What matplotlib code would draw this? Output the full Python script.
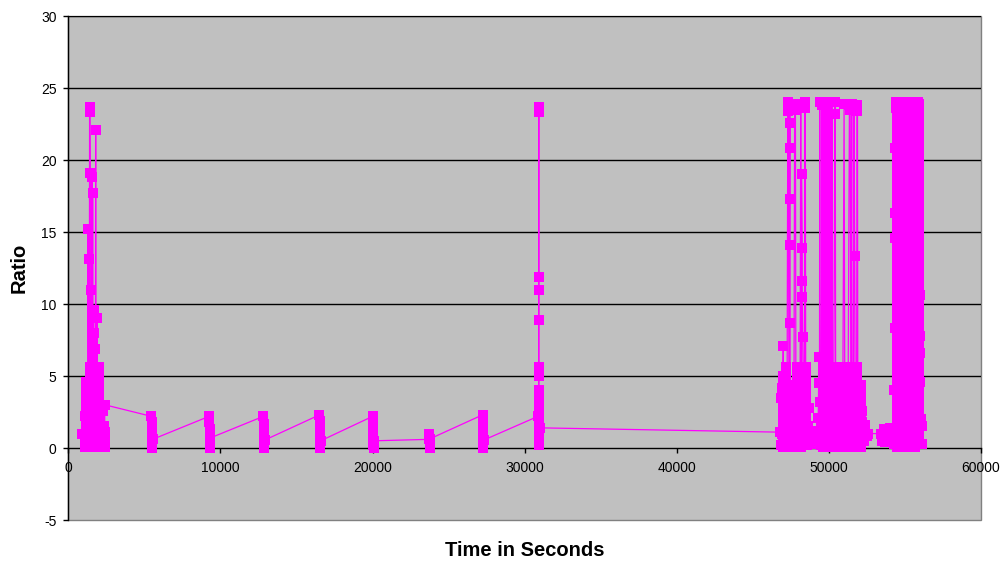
import numpy as np
import matplotlib
matplotlib.use("Agg")
import matplotlib.pyplot as plt
from matplotlib.patches import Rectangle

plt.rcParams["font.family"] = ["Liberation Sans", "DejaVu Sans"]

# ---------------------------------------------------------------- data
# Opening burst: time (s) and ratio
start_t = [870, 1080, 1100, 1120, 1150, 1180, 1200, 1230, 1260, 1290,
           1300, 1320, 1340, 1360, 1380, 1400, 1410, 1420, 1440, 1460,
           1480, 1500, 1520, 1540, 1560, 1580, 1600, 1620, 1640, 1660,
           1680, 1700, 1720, 1740, 1760, 1780, 1800, 1820, 1840, 1860,
           1880, 1900, 1920, 1940, 1960, 1980, 2000, 2030, 2060, 2100,
           2140, 2180, 2220, 2260, 2300, 2340, 2400]
start_r = [1.0, 0.1, 2.2, 0.5, 4.6, 1.2, 3.4, 0.3, 2.7, 0.8,
           15.2, 4.2, 0.2, 13.1, 3.0, 23.7, 23.3, 23.5, 19.1, 2.1,
           0.4, 11.0, 1.6, 4.4, 18.8, 0.2, 17.7, 2.9, 0.6, 9.6,
           1.1, 8.0, 0.3, 6.9, 3.6, 0.5, 22.1, 1.3, 4.8, 0.2,
           2.5, 9.0, 0.7, 3.9, 1.0, 2.2, 0.1, 3.3, 0.9, 1.9,
           0.2, 1.1, 0.4, 2.6, 0.6, 1.5, 3.0]

# Sawtooth recovery cycles, then the spike near 31 000 s
saw_t = [5460, 5480, 5490, 5500, 5510, 5520, 5540,
         9260, 9280, 9290, 9300, 9310, 9320, 9340,
         12830, 12850, 12860, 12870, 12880, 12890, 12910,
         16510, 16530, 16540, 16550, 16560, 16570, 16590,
         20010, 20030, 20040, 20050, 20060, 20070, 20090,
         23700, 23740, 23760, 23780, 23800,
         27230, 27250, 27260, 27270, 27280, 27290, 27310,
         30880, 30920,
         30930, 30930, 30930, 30930, 30930, 30930, 30930, 30930,
         30930, 30930, 30930, 30930, 30930, 30930, 30930,
         30950, 30980]
saw_r = [2.2, 1.8, 1.2, 0.7, 0.2, 0.0, 0.6,
         2.2, 1.8, 1.3, 0.8, 0.3, 0.0, 0.7,
         2.2, 1.7, 1.2, 0.7, 0.2, 0.0, 0.55,
         2.3, 1.9, 1.4, 0.8, 0.3, 0.0, 0.5,
         2.2, 1.8, 1.2, 0.6, 0.2, 0.0, 0.5,
         0.6, 1.0, 0.5, 0.0, 0.65,
         2.3, 1.8, 1.3, 0.7, 0.2, 0.0, 0.55,
         2.2, 3.0,
         23.7, 23.3, 11.9, 11.0, 8.9, 5.6, 5.0, 4.0,
         3.6, 2.6, 2.2, 1.8, 1.3, 0.9, 0.5,
         0.2, 1.4]

# Late bursts
b1_t = [46800, 46850, 46880, 46900, 46930, 46960, 47000, 47000, 47030, 47060,
        47100, 47150, 47200, 47250, 47300, 47330, 47380, 47420,
        47450, 47450, 47450, 47450, 47450, 47450,
        47480, 47520, 47560, 47600, 47650, 47700, 47750, 47800, 47830, 47860,
        47900, 47950, 48000, 48050, 48100, 48150, 48200, 48250, 48250, 48250,
        48280, 48300, 48330, 48380, 48420, 48450, 48500, 48550, 48600, 48650,
        48700, 48750, 48850, 49000, 49150]
b1_r = [1.1, 0.2, 3.5, 1.0, 4.2, 0.3, 7.1, 5.0, 2.6, 0.1,
        3.0, 1.4, 0.2, 2.0, 24.0, 23.4, 0.6, 23.8,
        22.6, 20.8, 17.3, 14.1, 8.7, 2.2,
        0.2, 3.1, 1.0, 0.3, 2.4, 0.8, 23.9, 23.5, 4.0, 0.5,
        1.8, 0.2, 3.5, 1.2, 0.4, 23.7, 19.0, 13.9, 11.6, 10.5,
        7.7, 5.3, 2.0, 0.3, 24.0, 23.6, 3.0, 0.2, 1.5, 0.4,
        2.8, 0.6, 1.0, 0.4, 1.2]

b2_t = [49250, 49300, 49330, 49350, 49380, 49400, 49420, 49450, 49500, 49550, 49600, 49650, 49700,
        50100, 50150, 50200, 50250, 50400, 50420, 50450, 50500, 50550, 50600, 50650, 50700, 50750, 50800, 50850,
        51000, 51050, 51100, 51150, 51250, 51350, 51400, 51450, 51500, 51550, 51600, 51650, 51700, 51720, 51750, 51800,
        51850, 51880, 51900, 51950, 52000, 52050, 52100, 52150, 52200, 52300, 52400, 52500, 52600]
b2_r = [0.3, 2.1, 4.5, 6.3, 1.0, 24.0, 3.2, 0.2, 1.6, 23.8, 0.1, 2.4, 0.5,
        0.6, 0.4, 3.5, 0.8, 24.0, 23.2, 0.5, 2.6, 0.2, 4.8, 1.1, 5.5, 0.3, 3.9, 0.6,
        23.9, 1.2, 0.2, 3.4, 0.5, 23.8, 23.5, 0.9, 23.9, 2.8, 0.4, 23.7, 13.3, 5.2, 2.0, 0.3,
        23.8, 23.4, 3.6, 0.6, 2.9, 0.2, 3.3, 1.8, 2.6, 0.5, 1.6, 0.8, 1.0]

b3_t = [53400, 53500, 53600, 53700, 53800, 53900, 54000, 54100, 54200,
        54280, 54300, 54320, 54330, 54340, 54350, 54380, 54420, 54600, 54650, 54900, 55000,
        55200, 55250, 55500, 55550, 55800, 55850, 55950, 55960, 55970, 55980, 55990, 56050, 56100, 56150]
b3_r = [1.0, 0.5, 1.3, 0.4, 1.2, 0.5, 1.4, 0.6, 0.4,
        0.3, 4.0, 8.3, 14.6, 16.3, 20.8, 23.6, 24.0, 0.4, 23.9, 0.2, 24.0,
        0.6, 23.8, 0.3, 23.9, 0.5, 24.0, 12.1, 10.6, 7.8, 6.6, 4.6, 2.0, 0.3, 1.5]

# Readings logged back-to-back under one time stamp
climb_a = [0.1, 0.5, 1.0, 1.6, 2.0, 2.4, 3.0, 3.5, 3.9, 4.3, 4.9, 5.4, 5.8,
           6.2, 6.8, 7.3, 7.6, 8.1, 8.7, 9.1, 9.5, 10.0, 10.6, 11.0, 11.4,
           11.9, 12.5, 12.9, 13.3, 13.8, 14.4, 14.8, 15.2, 15.7, 16.3, 16.7,
           17.1, 17.6, 18.2, 18.6, 19.0, 19.5, 20.1, 20.5, 20.9, 21.4, 22.0,
           22.4, 22.8, 23.3, 23.7, 24.0]
drop_b = [23.9, 23.5, 23.1, 22.6, 22.2, 21.7, 21.2, 20.7, 20.3, 19.8, 19.3,
          18.8, 18.4, 17.9, 17.4, 16.9, 16.5, 16.0, 15.5, 15.0, 14.6, 14.1,
          13.6, 13.1, 12.7, 12.2, 11.7, 11.2, 10.8, 10.3, 9.8, 9.3, 8.9, 8.4,
          7.9, 7.4, 7.0, 6.6, 6.0, 5.5, 5.1, 4.6, 4.1, 3.7, 3.1, 2.7, 2.3,
          1.7, 1.2, 0.8, 0.3]
low_a = [0.1, 0.6, 1.1, 1.5, 2.0, 2.5, 3.0, 3.4, 3.9, 4.4]
low_b = [5.6, 5.1, 4.6, 4.1, 3.6, 3.1, 2.6, 2.2, 1.7, 1.2, 0.7, 0.2]
base_c = [1.1, 0.6, 0.1]

full_col_t = [49800, 49950, 54450, 54750, 55050, 55350, 55650, 55900]
full_col_r = [climb_a, drop_b, climb_a, drop_b, climb_a, drop_b, climb_a, drop_b]

low_col_t = [1150, 1450, 1750, 2050, 2350, 2380,
             46980, 47180, 47530, 47880, 48180, 48480,
             50320, 50620, 50920, 51220, 51520, 51820, 52120]
low_col_r = [low_a, low_b, low_a, low_b, base_c, base_c,
             low_a, low_b, low_a, low_b, low_a, low_b,
             low_a, low_b, low_a, low_b, low_a, low_b, low_a]

x_ticks = [0, 10000, 20000, 30000, 40000, 50000, 60000]
y_ticks = [-5, 0, 5, 10, 15, 20, 25, 30]
grid_levels = [5, 10, 15, 20, 25, 30]

# ------------------------------------------------------ assemble series
times = list(start_t) + list(saw_t) + list(b1_t) + list(b2_t) + list(b3_t)
ratios = list(start_r) + list(saw_r) + list(b1_r) + list(b2_r) + list(b3_r)
for tc, vals in zip(full_col_t + low_col_t, full_col_r + low_col_r):
    times += [tc] * len(vals)
    ratios += list(vals)

times = np.asarray(times, dtype=float)
ratios = np.asarray(ratios, dtype=float)
order = np.argsort(times, kind="stable")
times, ratios = times[order], ratios[order]

# ---------------------------------------------------------------- plot
W, H = 1005, 566
fig = plt.figure(figsize=(W / 100, H / 100), dpi=100)
fig.patch.set_facecolor("white")
ax = fig.add_axes([68.3 / W, 1 - 520 / H, 912.7 / W, 504 / H])
ax.set_facecolor("#C0C0C0")
ax.set_xlim(0, 60000)
ax.set_ylim(-5, 30)

for lvl in grid_levels:
    ax.axhline(lvl, color="black", lw=1.0, zorder=1)

ax.plot(times, ratios, color="#FF00FF", lw=0.9, marker="s", ms=6.6,
        mec="#FF00FF", mew=0, zorder=3)

# axes cross at the origin
ax.spines["left"].set_position(("data", 0))
ax.spines["bottom"].set_position(("data", 0))
for s in ("left", "bottom"):
    ax.spines[s].set_color("black")
    ax.spines[s].set_linewidth(1.0)
    ax.spines[s].set_zorder(2)
ax.spines["top"].set_visible(False)
ax.spines["right"].set_visible(False)
ax.add_patch(Rectangle((0, 0), 1, 1, transform=ax.transAxes, fill=False,
                       edgecolor="#808080", lw=1.0, zorder=0.5, clip_on=False))

ax.set_xticks(x_ticks)
ax.set_xticklabels([str(v) for v in x_ticks])
ax.set_yticks(y_ticks)
ax.set_yticklabels([str(v) for v in y_ticks])
ax.tick_params(axis="both", direction="out", length=3.5, width=1.0,
               color="black", labelsize=10, labelcolor="black")
ax.tick_params(axis="x", pad=5.5)
ax.tick_params(axis="y", pad=5)

fig.text(524.5 / W, 1 - 551 / H, "Time in Seconds", ha="center", va="center",
         fontsize=14.5, fontweight="bold")
fig.text(19 / W, 1 - 268 / H, "Ratio", ha="center", va="center",
         rotation=90, fontsize=14.5, fontweight="bold")

fig.savefig("out.png", dpi=100, facecolor="white")
